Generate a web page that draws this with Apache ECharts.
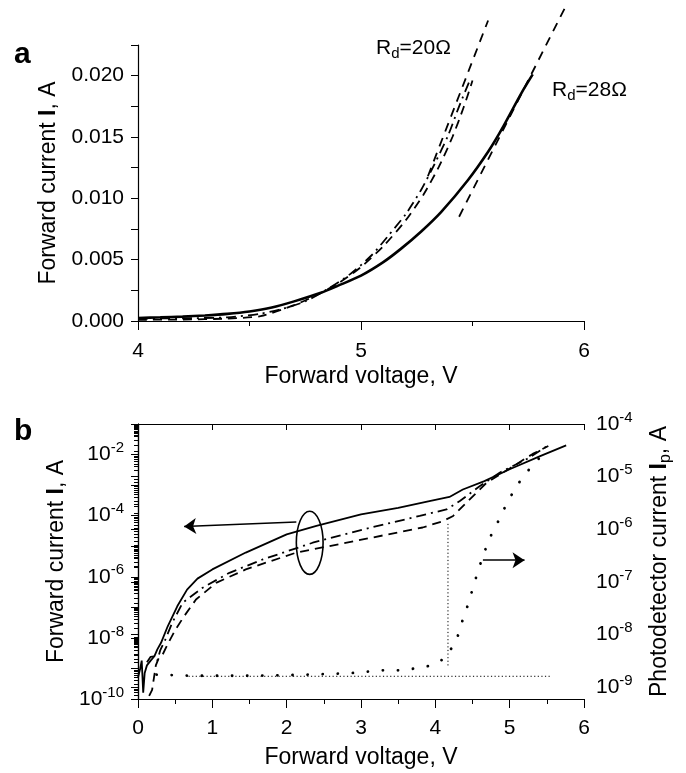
<!DOCTYPE html>
<html>
<head>
<meta charset="utf-8">
<script src="https://cdn.jsdelivr.net/npm/echarts@6/dist/echarts.min.js"></script>
<style>
  html, body { margin: 0; padding: 0; background: #fff; }
  #chart { width: 686px; height: 773px; }
</style>
</head>
<body>
<div id="chart"></div>
<script>
// panel a: forward I-V, linear scale
const aSolidV = [4.0, 4.1, 4.2, 4.3, 4.4, 4.5, 4.6, 4.7, 4.82, 4.9, 5.0, 5.1, 5.18, 5.27, 5.36, 5.48, 5.57, 5.63, 5.72, 5.77]
const aSolidI = [0.00025, 0.0003, 0.00036, 0.00045, 0.00058, 0.00078, 0.0011, 0.0016, 0.0023, 0.0029, 0.0037, 0.0048, 0.0059, 0.0073, 0.0089, 0.0115, 0.0138, 0.0156, 0.0186, 0.0201]
const aDashDotV = [4.0, 4.2, 4.4, 4.55, 4.65, 4.75, 4.85, 4.95, 5.05, 5.12, 5.2, 5.27, 5.33, 5.39, 5.44, 5.49]
const aDashDotI = [0.0002, 0.00022, 0.0003, 0.0006, 0.0010, 0.0016, 0.0026, 0.0038, 0.0054, 0.0069, 0.0087, 0.0107, 0.0128, 0.0151, 0.0175, 0.0197]
const aDashV = [4.0, 4.2, 4.4, 4.55, 4.7, 4.8, 4.9, 5.0, 5.1, 5.2, 5.28, 5.35, 5.41, 5.46, 5.5]
const aDashI = [0.0001, 0.00012, 0.0002, 0.0004, 0.0013, 0.0021, 0.0031, 0.0044, 0.0061, 0.0082, 0.0103, 0.0126, 0.0150, 0.0174, 0.0196]
// linear fits (differential resistance)
const fit20V = [5.30, 5.57]
const fit20I = [0.0118, 0.0245]
const fit28V = [5.44, 5.925]
const fit28I = [0.0085, 0.0259]

// panel b: log scale
const bSolidV = [0.00, 0.03, 0.05, 0.07, 0.09, 0.12, 0.17, 0.22, 0.26, 0.31, 0.40, 0.53, 0.66, 0.80, 1.00, 1.45, 2.00, 2.40, 3.00, 3.50, 3.92, 4.19, 4.37, 4.66, 5.00, 5.41, 5.76]
const bSolidI = [5.0e-10, 1.0e-9, 1.8e-9, 1.6e-10, 7.1e-10, 1.26e-9, 1.8e-9, 2.5e-9, 4.2e-9, 6.9e-9, 2.4e-8, 1.1e-7, 3.8e-7, 8.7e-7, 1.74e-6, 6.2e-6, 2.45e-5, 4.6e-5, 1.1e-4, 1.8e-4, 3.0e-4, 4.1e-4, 7.2e-4, 1.35e-3, 3.3e-3, 8.9e-3, 2.0e-2]
const bDashDotV = [0.12, 0.17, 0.22, 0.26, 0.30, 0.36, 0.46, 0.60, 0.87, 1.23, 1.68, 2.35, 3.02, 3.79, 4.15, 4.33, 4.60, 4.87, 5.23, 5.52]
const bDashDotI = [1.6e-9, 2.4e-9, 2.5e-9, 1.8e-9, 4.0e-9, 7.9e-9, 3.1e-8, 1.4e-7, 4.4e-7, 1.35e-6, 3.7e-6, 1.3e-5, 3.5e-5, 9.8e-5, 1.6e-4, 3.0e-4, 9.3e-4, 2.6e-3, 7.1e-3, 2.0e-2]
const bDashV = [0.15, 0.19, 0.24, 0.28, 0.33, 0.40, 0.50, 0.62, 0.78, 1.05, 1.45, 2.13, 2.93, 3.83, 4.10, 4.24, 4.42, 4.69, 5.00, 5.31, 5.52]
const bDashI = [1.26e-10, 2.0e-10, 1.26e-9, 2.2e-9, 2.8e-9, 6.3e-9, 1.8e-8, 5.1e-8, 1.8e-7, 6.3e-7, 1.74e-6, 6.2e-6, 1.5e-5, 4.1e-5, 6.6e-5, 9.8e-5, 2.7e-4, 1.2e-3, 3.5e-3, 1.05e-2, 1.9e-2]
// photodetector current (right axis)
const photoV = [0.25, 0.5, 0.7, 1.0, 1.5, 2.0, 2.5, 3.0, 3.2, 3.56, 3.74, 3.95, 4.12, 4.28, 4.35, 4.43, 4.50, 4.57, 4.65, 4.74, 4.86, 4.97, 5.11, 5.29, 5.50]
const photoI = [1.74e-9, 1.7e-9, 1.66e-9, 1.66e-9, 1.66e-9, 1.7e-9, 1.78e-9, 1.9e-9, 2.1e-9, 2.1e-9, 2.3e-9, 2.6e-9, 3.5e-9, 7.4e-9, 1.6e-8, 3.4e-8, 7.2e-8, 1.55e-7, 3.4e-7, 7.2e-7, 1.55e-6, 3.3e-6, 7.2e-6, 1.55e-5, 3.2e-5]
const baseV = [0.68, 5.56]
const baseI = [1.62e-9, 1.62e-9]
const stepV = [4.17, 4.17]
const stepI = [2.6e-9, 1.4e-6]
// annotations
const ellipseBox = [2.13, 1.2e-6, 2.49, 1.4e-4]
const leftArrow = [[2.13, 6.2e-5], [0.62, 4.4e-5]]
const rightArrow = [[4.64, 2.6e-7], [5.2, 2.6e-7]]

const FONT = 'Liberation Sans, Arial, sans-serif'
const pairs = (xs, ys) => xs.map((x, i) => [x, ys[i]])

function supLabel (v, evenOnly) {
  const e = Math.log10(v)
  const n = Math.round(e)
  if (Math.abs(e - n) > 0.01) return ''
  if (evenOnly && n % 2 !== 0) return ''
  return '10{sup|' + n + '}'
}

const supRich = {
  sup: { fontSize: 15, lineHeight: 14, verticalAlign: 'top', fontFamily: FONT, color: '#000' }
}

function lineSeries (x, y, xs, ys, type, width, extra) {
  return Object.assign({
    type: 'line',
    xAxisIndex: x,
    yAxisIndex: y,
    data: pairs(xs, ys),
    showSymbol: false,
    symbol: 'none',
    lineStyle: { color: '#000', width: width, type: type },
    z: 3
  }, extra || {})
}

function arrowMark (from, to) {
  return {
    silent: true,
    symbol: ['none', 'arrow'],
    symbolSize: 12,
    label: { show: false },
    lineStyle: { color: '#000', width: 1.6, type: 'solid' },
    itemStyle: { color: '#000' },
    data: [[{ coord: from }, { coord: to }]]
  }
}

const axisCommon = {
  axisLine: { lineStyle: { color: '#000', width: 1.2 } },
  splitLine: { show: false },
  nameTextStyle: { fontFamily: FONT, fontSize: 23, color: '#000' }
}

const option = {
  animation: false,
  backgroundColor: '#fff',
  textStyle: { fontFamily: FONT, color: '#000' },
  grid: [
    { left: 138, right: 102, top: 45, height: 276 },
    { left: 138, right: 102, top: 424, height: 275 }
  ],
  xAxis: [
    Object.assign({}, axisCommon, {
      gridIndex: 0,
      type: 'value',
      min: 4,
      max: 6,
      interval: 1,
      axisTick: { length: 9, lineStyle: { color: '#000' } },
      minorTick: { show: true, splitNumber: 2, length: 5, lineStyle: { color: '#000' } },
      axisLabel: { fontSize: 21, color: '#000', margin: 20, fontFamily: FONT },
      name: 'Forward voltage, V',
      nameLocation: 'middle',
      nameGap: 44
    }),
    Object.assign({}, axisCommon, {
      gridIndex: 1,
      type: 'value',
      min: 0,
      max: 6,
      interval: 1,
      axisTick: { length: 9, lineStyle: { color: '#000' } },
      minorTick: { show: true, splitNumber: 2, length: 5, lineStyle: { color: '#000' } },
      axisLabel: { fontSize: 21, color: '#000', margin: 19, fontFamily: FONT },
      name: 'Forward voltage, V',
      nameLocation: 'middle',
      nameGap: 47
    }),
    Object.assign({}, axisCommon, {
      gridIndex: 1,
      type: 'value',
      position: 'top',
      min: 0,
      max: 6,
      interval: 1,
      axisTick: { inside: true, length: 6, lineStyle: { color: '#000' } },
      axisLabel: { show: false }
    })
  ],
  yAxis: [
    Object.assign({}, axisCommon, {
      gridIndex: 0,
      type: 'value',
      min: 0,
      max: 0.0225,
      interval: 0.0025,
      axisTick: { length: 7, lineStyle: { color: '#000' } },
      axisLabel: {
        fontSize: 21,
        color: '#000',
        margin: 14,
        fontFamily: FONT,
        formatter: v => (Math.abs(v / 0.005 - Math.round(v / 0.005)) < 1e-6 ? v.toFixed(3) : '')
      },
      name: 'Forward current {b|I}, A',
      nameLocation: 'middle',
      nameGap: 75,
      nameTextStyle: { fontFamily: FONT, fontSize: 23, color: '#000', rich: { b: { fontWeight: 'bold', fontSize: 23, fontFamily: FONT } } }
    }),
    Object.assign({}, axisCommon, {
      gridIndex: 1,
      type: 'log',
      logBase: 10,
      min: 1e-10,
      max: 0.1,
      splitNumber: 9,
      axisTick: { length: 7, lineStyle: { color: '#000' } },
      minorTick: { show: true, splitNumber: 9, length: 4, lineStyle: { color: '#000' } },
      axisLabel: {
        fontSize: 21,
        color: '#000',
        margin: 14,
        lineHeight: 28,
        fontFamily: FONT,
        rich: supRich,
        formatter: v => supLabel(v, true)
      },
      name: 'Forward current {b|I}, A',
      nameLocation: 'middle',
      nameGap: 66,
      nameTextStyle: { fontFamily: FONT, fontSize: 23, color: '#000', rich: { b: { fontWeight: 'bold', fontSize: 23, fontFamily: FONT } } }
    }),
    Object.assign({}, axisCommon, {
      gridIndex: 1,
      type: 'log',
      logBase: 10,
      position: 'right',
      min: 6e-10,
      max: 1e-4,
      splitNumber: 5,
      axisTick: { inside: true, length: 7, lineStyle: { color: '#000' } },
      minorTick: { show: true, splitNumber: 9, length: 4, lineStyle: { color: '#000' } },
      axisLabel: {
        fontSize: 21,
        color: '#000',
        margin: 12,
        lineHeight: 28,
        fontFamily: FONT,
        rich: supRich,
        formatter: v => supLabel(v, false)
      },
      name: 'Photodetector current {b|I}{s|p}, A',
      nameLocation: 'middle',
      nameGap: 62,
      nameTextStyle: {
        fontFamily: FONT,
        fontSize: 23,
        color: '#000',
        lineHeight: 28,
        rich: {
          b: { fontWeight: 'bold', fontSize: 23, lineHeight: 28, fontFamily: FONT },
          s: { fontSize: 16, lineHeight: 12, verticalAlign: 'bottom', fontFamily: FONT }
        }
      }
    })
  ],
  graphic: [
    { type: 'text', left: 14, top: 40, style: { text: 'a', font: 'bold 30px ' + FONT, fill: '#000' } },
    { type: 'text', left: 14, top: 417, style: { text: 'b', font: 'bold 30px ' + FONT, fill: '#000' } },
    {
      type: 'text',
      left: 376,
      top: 38,
      style: {
        text: '{r|R}{s|d}{r|=20Ω}',
        rich: {
          r: { fontSize: 21, lineHeight: 26, fontFamily: FONT, fill: '#000' },
          s: { fontSize: 15, lineHeight: 12, verticalAlign: 'bottom', fontFamily: FONT, fill: '#000' }
        }
      }
    },
    {
      type: 'text',
      left: 552,
      top: 80,
      style: {
        text: '{r|R}{s|d}{r|=28Ω}',
        rich: {
          r: { fontSize: 21, lineHeight: 26, fontFamily: FONT, fill: '#000' },
          s: { fontSize: 15, lineHeight: 12, verticalAlign: 'bottom', fontFamily: FONT, fill: '#000' }
        }
      }
    }
  ],
  series: [
    lineSeries(0, 0, aSolidV, aSolidI, 'solid', 2.6, { smooth: 0.25 }),
    lineSeries(0, 0, aDashDotV, aDashDotI, [10, 5, 2, 5], 1.8, { smooth: 0.25 }),
    lineSeries(0, 0, aDashV, aDashI, [9, 6], 1.8, { smooth: 0.25 }),
    lineSeries(0, 0, fit20V, fit20I, [9, 7], 1.8, { clip: false }),
    lineSeries(0, 0, fit28V, fit28I, [9, 7], 1.8, { clip: false }),
    lineSeries(1, 1, bSolidV, bSolidI, 'solid', 1.8, { markLine: arrowMark(leftArrow[0], leftArrow[1]) }),
    lineSeries(1, 1, bDashDotV, bDashDotI, [10, 5, 2, 5], 1.8),
    lineSeries(1, 1, bDashV, bDashI, [9, 6], 1.8),
    lineSeries(1, 2, photoV, photoI, [0.1, 15], 2.8, {
      lineStyle: { color: '#000', width: 2.8, type: [0.1, 15], cap: 'round' },
      markLine: arrowMark(rightArrow[0], rightArrow[1])
    }),
    lineSeries(1, 2, baseV, baseI, [1.2, 2.4], 1),
    lineSeries(1, 2, stepV, stepI, [1.2, 2.4], 1),
    {
      type: 'custom',
      xAxisIndex: 1,
      yAxisIndex: 1,
      data: [ellipseBox],
      renderItem: (params, api) => {
        const p1 = api.coord([api.value(0), api.value(1)])
        const p2 = api.coord([api.value(2), api.value(3)])
        return {
          type: 'ellipse',
          shape: {
            cx: (p1[0] + p2[0]) / 2,
            cy: (p1[1] + p2[1]) / 2,
            rx: Math.abs(p2[0] - p1[0]) / 2,
            ry: Math.abs(p2[1] - p1[1]) / 2
          },
          style: { fill: 'none', stroke: '#000', lineWidth: 1.6 }
        }
      },
      z: 4
    }
  ]
}

const chart = echarts.init(document.getElementById('chart'))
chart.setOption(option)
</script>
</body>
</html>
